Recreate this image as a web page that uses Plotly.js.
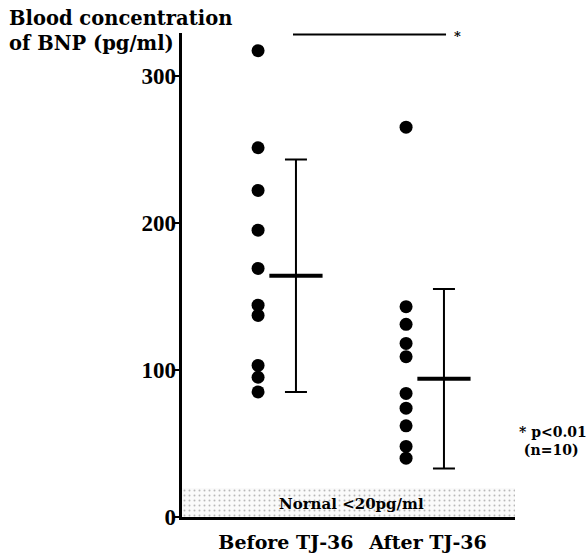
<!DOCTYPE html>
<html>
<head>
<meta charset="utf-8">
<script src="https://cdn.plot.ly/plotly-3.0.1.min.js"></script>
<style>html,body{margin:0;padding:0;background:#fff;}</style>
</head>
<body>
<div id="chart" style="width:588px;height:556px;"></div>
<script>
// ---- data ----
const categories = ["Before TJ-36", "After TJ-36"];
const beforeValues = [317, 251, 222, 195, 169, 144, 137, 103, 95, 85];
const afterValues = [265, 143, 131, 118, 109, 84, 74, 62, 48, 40];
const means = [164, 94];
const sds = [79, 61];
const yTickVals = [0, 100, 200, 300];
const normalLimit = 20;
const sigLevel = 328;

// ---- layout helpers (positions, not data) ----
const catPos = [1, 2];
const dotOffset = -0.128;
const barOffset = 0.128;
const labelOffset = [0.06, 0.02];
const xRange = [0.358, 2.608];
const yRange = [0, 329];
const SERIF = "Liberation Serif, Times New Roman, serif";
const WIDE = "DejaVu Serif, Liberation Serif, serif";

const dotX = (i, arr) => arr.map(() => catPos[i] + dotOffset);

const traces = [
  {
    type: "bar",
    x: [(xRange[0] + xRange[1]) / 2], y: [normalLimit], width: [xRange[1] - xRange[0]],
    marker: {color: "#fafafa", line: {width: 0},
             pattern: {shape: ".", fgcolor: "#b8b8b8", bgcolor: "#fafafa", size: 5, solidity: 0.12}},
    hoverinfo: "skip", showlegend: false
  },
  {
    type: "scatter", mode: "markers",
    x: dotX(0, beforeValues), y: beforeValues,
    marker: {color: "#000", size: 13},
    hoverinfo: "y", showlegend: false
  },
  {
    type: "scatter", mode: "markers",
    x: dotX(1, afterValues), y: afterValues,
    marker: {color: "#000", size: 13},
    hoverinfo: "y", showlegend: false
  },
  {
    type: "scatter", mode: "markers",
    x: catPos.map(p => p + barOffset), y: means,
    marker: {symbol: "line-ew", size: 38, color: "#000", line: {color: "#000", width: 4}},
    error_y: {type: "data", array: sds, visible: true, color: "#000", thickness: 2, width: 11},
    showlegend: false
  },
  {
    // carrier for the label axis (draws nothing)
    type: "scatter", mode: "markers", x: [catPos[0]], y: [yTickVals[0]], yaxis: "y2",
    marker: {opacity: 0}, hoverinfo: "skip", showlegend: false
  }
];

const layout = {
  width: 588, height: 556,
  margin: {l: 182, r: 73, t: 33, b: 39},
  paper_bgcolor: "#fff", plot_bgcolor: "rgba(0,0,0,0)",
  font: {family: SERIF, color: "#000"},
  bargap: 0,
  xaxis: {
    range: xRange,
    tickvals: catPos.map((p, i) => p + labelOffset[i]),
    ticktext: categories,
    ticks: "", showgrid: false, zeroline: false,
    showline: true, linewidth: 3, linecolor: "#000",
    tickfont: {family: WIDE, size: 19, weight: "bold", color: "#000"},
    ticklabelstandoff: 6
  },
  yaxis: {
    range: yRange,
    tickvals: yTickVals,
    ticks: "outside", ticklen: 5, tickwidth: 2, tickcolor: "#000",
    showticklabels: false,
    showgrid: false, zeroline: false,
    showline: true, linewidth: 3, linecolor: "#000"
  },
  yaxis2: {
    overlaying: "y", side: "left",
    range: yRange,
    tickvals: yTickVals,
    ticks: "", showline: false, showgrid: false, zeroline: false,
    tickfont: {family: SERIF, size: 23, weight: "bold", color: "#000"},
    ticklabelstandoff: 5
  },
  shapes: [
    {type: "line", xref: "x", yref: "y",
     x0: catPos[0] + barOffset - 0.02, x1: catPos[1] + barOffset + 0.014,
     y0: sigLevel, y1: sigLevel, line: {color: "#000", width: 2}}
  ],
  annotations: [
    {xref: "paper", yref: "paper", x: -0.525, y: 1.058, xanchor: "left", yanchor: "top",
     align: "left", showarrow: false,
     text: "Blood concentration<br>of BNP (pg/ml)",
     font: {family: WIDE, size: 19.5, weight: "bold", color: "#000"}},
    {xref: "x", yref: "y", x: 1.5, y: 9, xanchor: "center", yanchor: "middle",
     showarrow: false, text: "Nornal <20pg/ml",
     font: {family: WIDE, size: 15, weight: "bold", color: "#000"}},
    {xref: "x", yref: "y", x: catPos[1] + barOffset + 0.09, y: sigLevel - 1.5,
     xanchor: "center", yanchor: "middle", showarrow: false, text: "*",
     font: {family: WIDE, size: 13, weight: "bold", color: "#000"}},
    {xref: "paper", yref: "paper", x: 1.005, y: 0.157, xanchor: "left", yanchor: "middle",
     align: "left", showarrow: false, text: "* p<0.01<br> (n=10)",
     font: {family: WIDE, size: 14, weight: "bold", color: "#000"}}
  ]
};

Plotly.newPlot("chart", traces, layout, {displayModeBar: false, staticPlot: true});
</script>
</body>
</html>
